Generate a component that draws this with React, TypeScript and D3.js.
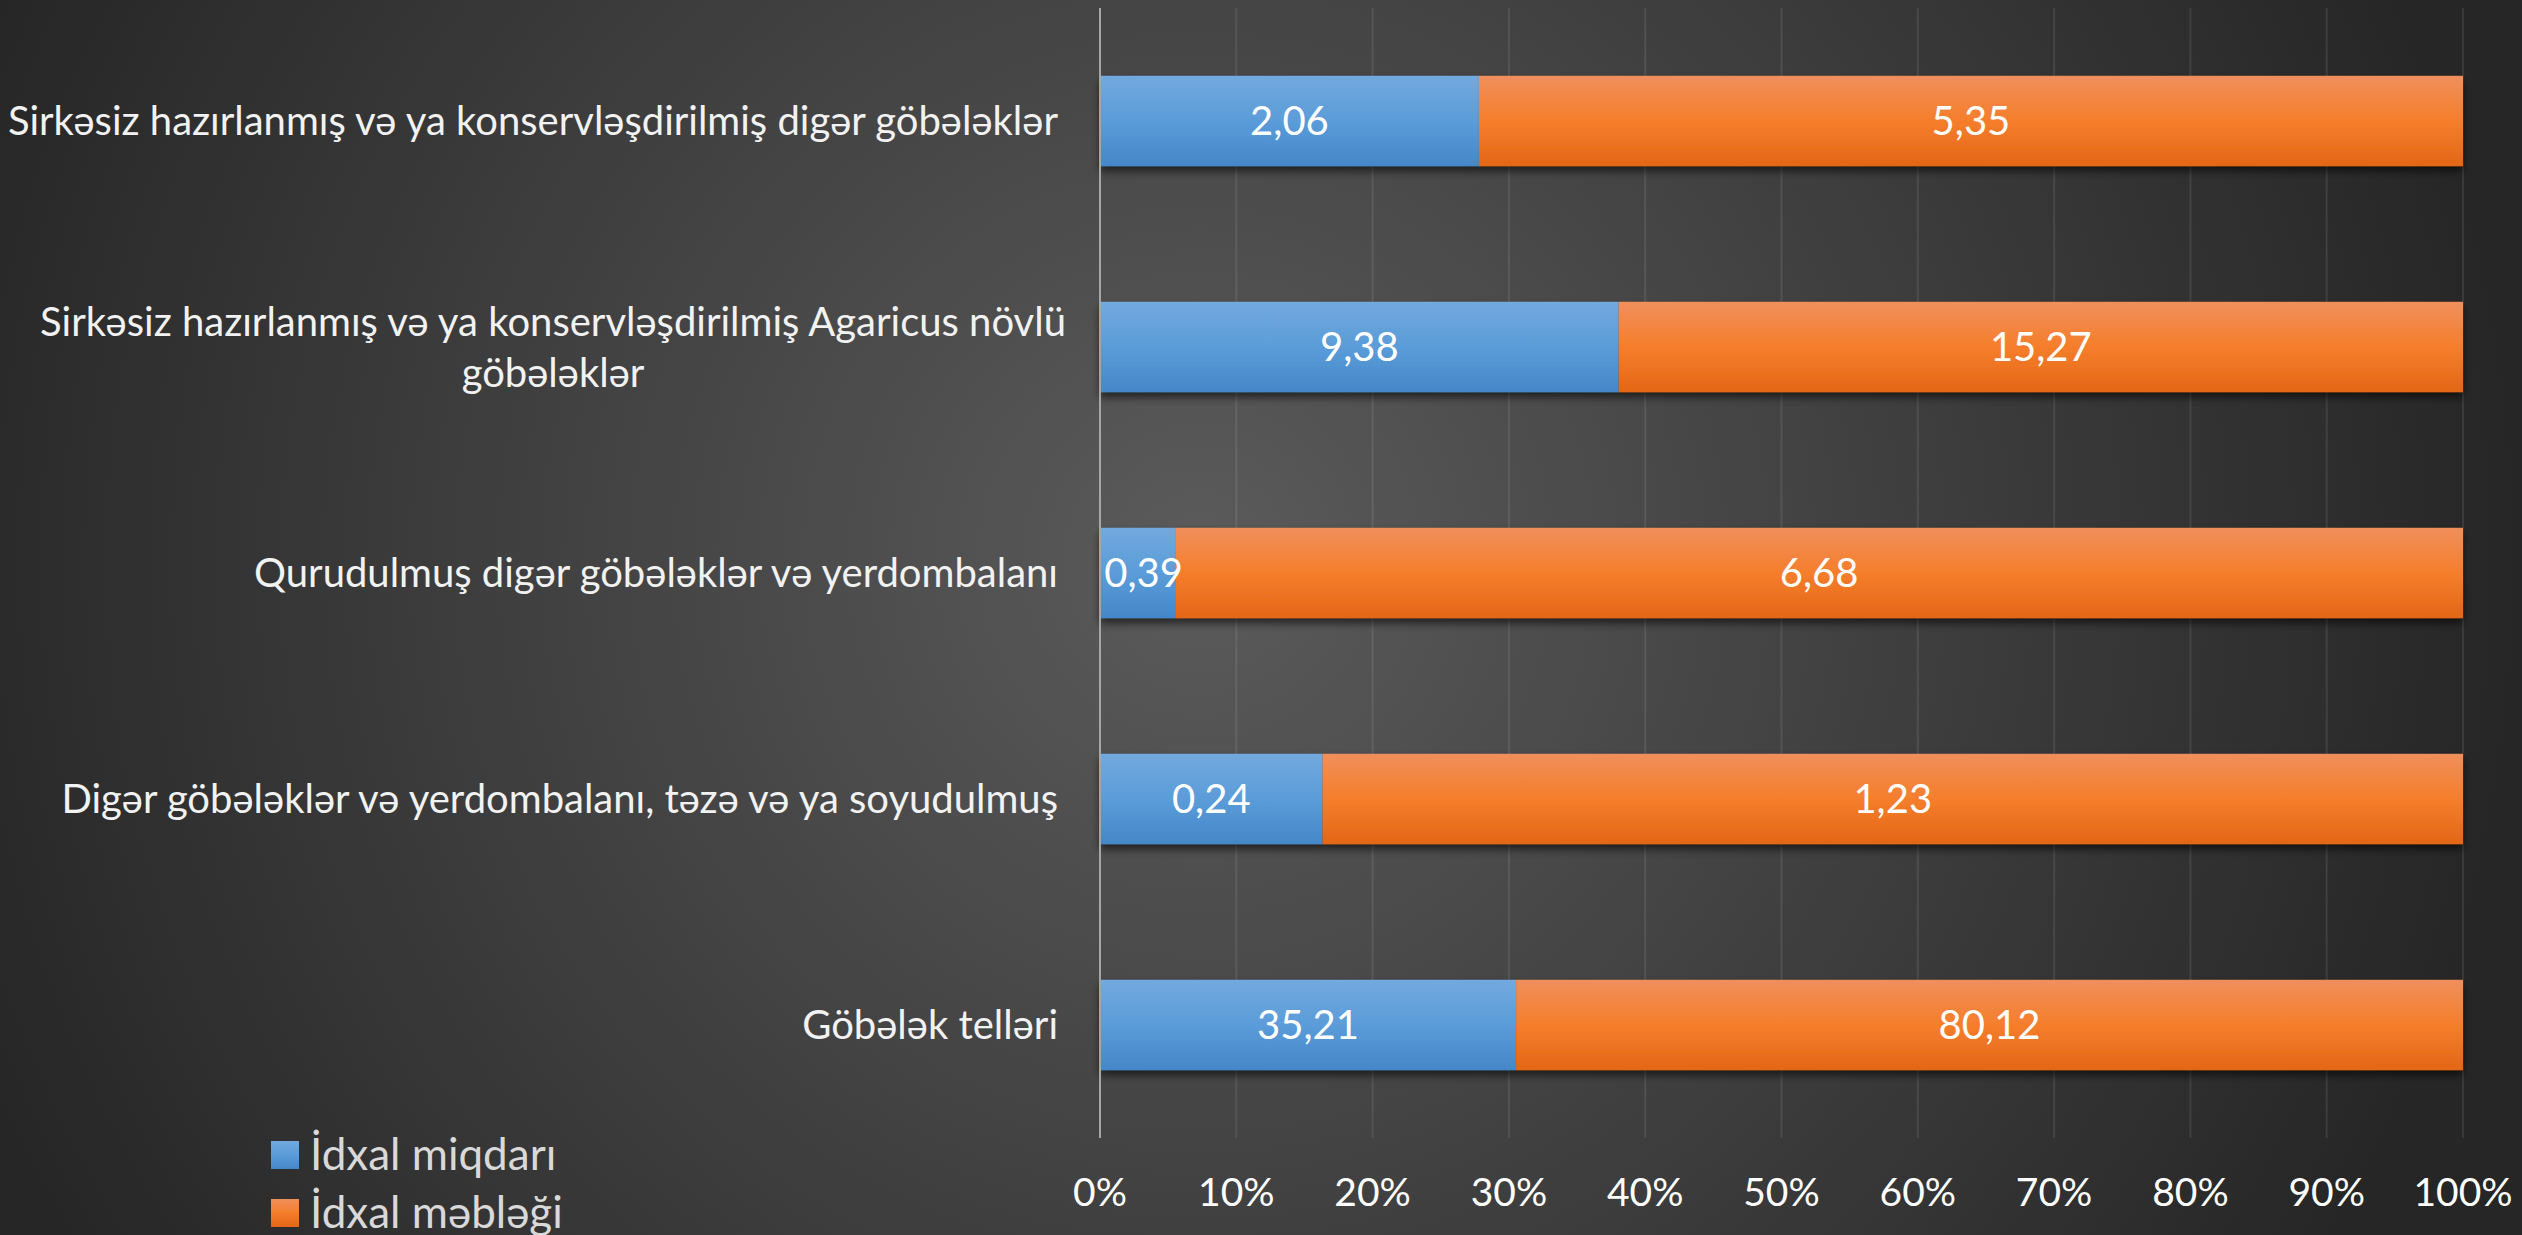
import React, { useEffect } from "react";
import * as d3 from "d3";

const categories = [
  "Sirkəsiz hazırlanmış və ya konservləşdirilmiş digər göbələklər",
  "Sirkəsiz hazırlanmış və ya konservləşdirilmiş Agaricus növlü\ngöbələklər",
  "Qurudulmuş digər göbələklər və yerdombalanı",
  "Digər göbələklər və yerdombalanı, təzə və ya soyudulmuş",
  "Göbələk telləri",
];
const miqdar = [2.06, 9.38, 0.39, 0.24, 35.21];
const mebleg = [5.35, 15.27, 6.68, 1.23, 80.12];
const seriesNames = ["İdxal miqdarı", "İdxal məbləği"];
const tickValues = [0, 0.1, 0.2, 0.3, 0.4, 0.5, 0.6, 0.7, 0.8, 0.9, 1];

const W = 2522;
const H = 1235;
const FONT = "Lato, 'Open Sans', sans-serif";

export default function App() {
  useEffect(() => {
    document.body.style.margin = "0";
    document.body.style.overflow = "hidden";
  }, []);

  const x = d3.scaleLinear().domain([0, 1]).range([1100, 2463]);
  const y = d3
    .scaleBand<number>()
    .domain(d3.range(categories.length))
    .range([8, 1138])
    .paddingInner(0.6)
    .paddingOuter(0.3);
  const fmt = (v: number) => d3.format(".2f")(v).replace(".", ",");

  const rows = categories.map((c, i) => {
    const total = miqdar[i] + mebleg[i];
    return { c, i, a: miqdar[i], b: mebleg[i], pa: miqdar[i] / total };
  });

  return (
    <svg width={W} height={H} style={{ display: "block" }} fontFamily={FONT}>
      <defs>
        <radialGradient id="bg" gradientUnits="userSpaceOnUse" cx={1200} cy={560} r={1320}>
          <stop offset="0" stopColor="#5b5b5b" />
          <stop offset="1" stopColor="#262626" />
        </radialGradient>
        <linearGradient id="gBlue" x1="0" y1="0" x2="0" y2="1">
          <stop offset="0" stopColor="#72a9de" />
          <stop offset="0.5" stopColor="#5b9cd9" />
          <stop offset="1" stopColor="#4487c8" />
        </linearGradient>
        <linearGradient id="gOrange" x1="0" y1="0" x2="0" y2="1">
          <stop offset="0" stopColor="#f08f5c" />
          <stop offset="0.5" stopColor="#f57e2b" />
          <stop offset="1" stopColor="#e46616" />
        </linearGradient>
        <filter id="shadow" x="-5%" y="-20%" width="110%" height="160%">
          <feDropShadow dx="0" dy="5" stdDeviation="4" floodColor="#000" floodOpacity="0.6" />
        </filter>
      </defs>
      <rect x={0} y={0} width={W} height={H} fill="url(#bg)" />

      {/* gridlines */}
      {tickValues.slice(1).map((t) => (
        <line key={t} x1={x(t)} x2={x(t)} y1={8} y2={1138} stroke="#ffffff" strokeOpacity={0.09} strokeWidth={2} />
      ))}

      {/* bars */}
      {rows.map((r) => {
        const y0 = y(r.i)!;
        const bh = y.bandwidth();
        return (
          <g key={r.i} filter="url(#shadow)">
            <rect x={x(0)} y={y0} width={x(r.pa) - x(0)} height={bh} fill="url(#gBlue)" />
            <rect x={x(r.pa)} y={y0} width={x(1) - x(r.pa)} height={bh} fill="url(#gOrange)" />
          </g>
        );
      })}

      {/* axis line */}
      <line x1={x(0)} x2={x(0)} y1={8} y2={1138} stroke="#a6a6a6" strokeWidth={2} />

      {/* data labels */}
      {rows.map((r) => {
        const cy = y(r.i)! + y.bandwidth() / 2;
        return (
          <g key={"l" + r.i} fill="#ffffff" fontSize={40} textAnchor="middle">
            <text x={(x(0) + x(r.pa)) / 2 + (r.pa < 0.08 ? 6 : 0)} y={cy} dy="0.35em">
              {fmt(r.a)}
            </text>
            <text x={(x(r.pa) + x(1)) / 2} y={cy} dy="0.35em">
              {fmt(r.b)}
            </text>
          </g>
        );
      })}

      {/* category labels */}
      {rows.map((r) => {
        const lines = r.c.split("\n");
        const cy = y(r.i)! + y.bandwidth() / 2;
        const lh = 51;
        if (lines.length === 1) {
          return (
            <text key={"c" + r.i} x={1058} y={cy} dy="0.35em" textAnchor="end" fill="#f2f2f2" fontSize={40}>
              {lines[0]}
            </text>
          );
        }
        return (
          <text key={"c" + r.i} fill="#f2f2f2" fontSize={40} textAnchor="middle">
            {lines.map((ln, k) => (
              <tspan key={k} x={553} y={cy + (k - (lines.length - 1) / 2) * lh} dy="0.35em">
                {ln}
              </tspan>
            ))}
          </text>
        );
      })}

      {/* x tick labels */}
      {tickValues.map((t) => (
        <text key={"t" + t} x={x(t)} y={1192} dy="0.35em" textAnchor="middle" fill="#ffffff" fontSize={39}>
          {d3.format(".0%")(t)}
        </text>
      ))}

      {/* legend */}
      {seriesNames.map((s, k) => (
        <g key={s} transform={`translate(271, ${1141 + k * 58})`}>
          <rect x={0} y={0} width={28} height={28} fill={k === 0 ? "url(#gBlue)" : "url(#gOrange)"} />
          <text x={39} y={14} dy="0.35em" fill="#d9d9d9" fontSize={44}>
            {s}
          </text>
        </g>
      ))}
    </svg>
  );
}
